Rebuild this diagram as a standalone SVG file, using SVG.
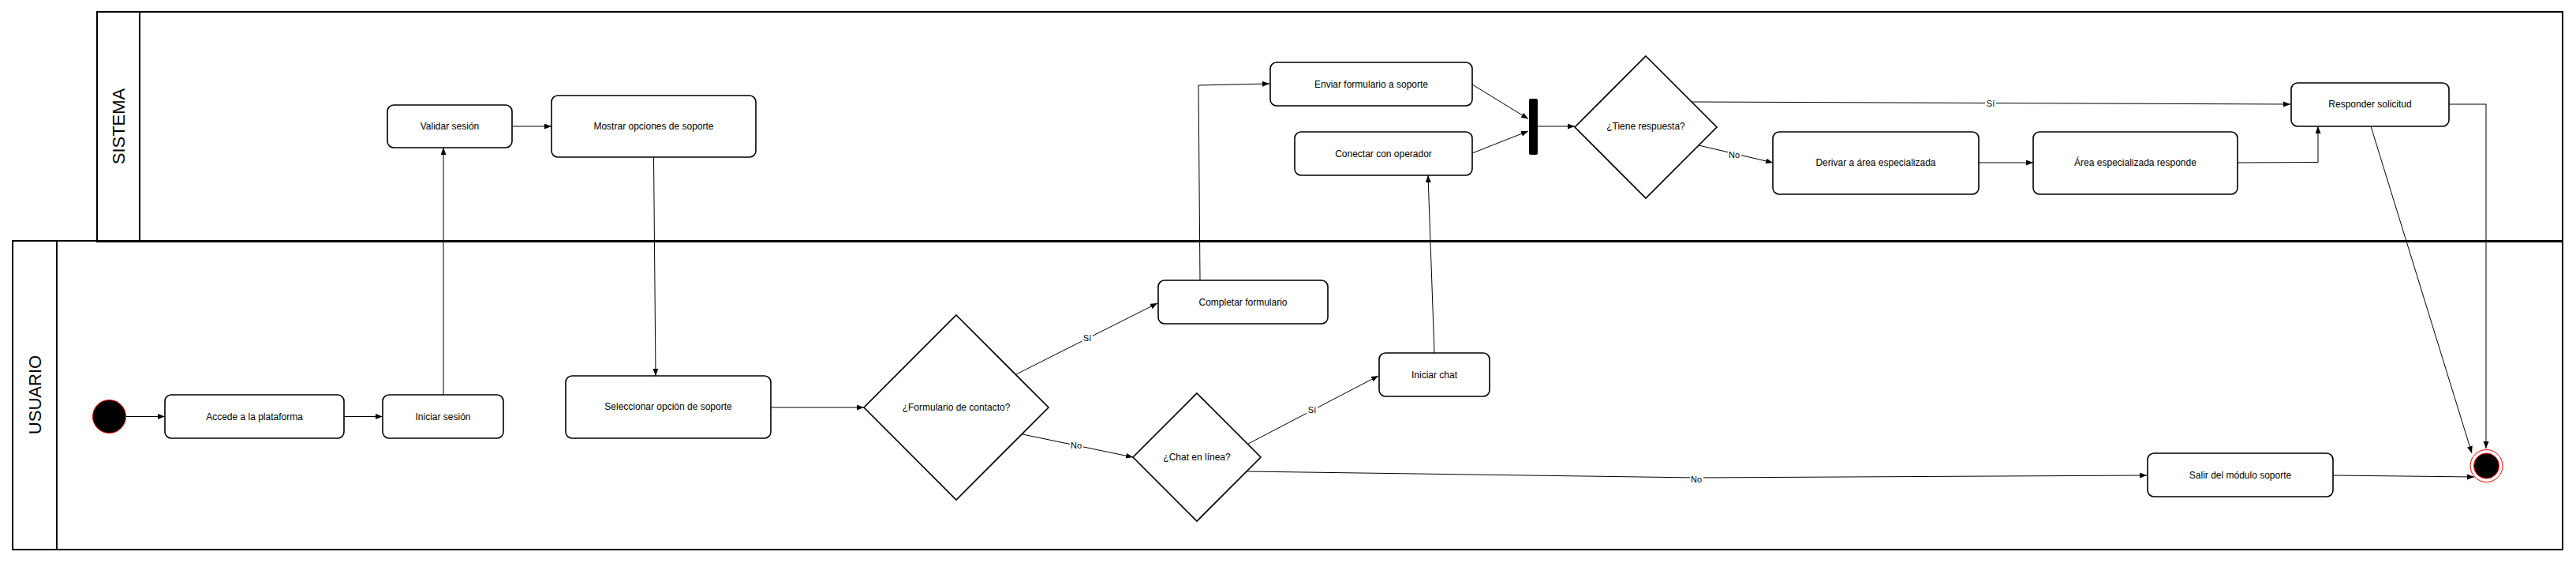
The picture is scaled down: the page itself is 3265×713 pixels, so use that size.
<svg xmlns="http://www.w3.org/2000/svg" width="3265" height="713" viewBox="0 0 3265 713">
<style>
.lane{fill:none;stroke:#000;stroke-width:2}
.hdr{fill:#fff;stroke:#000;stroke-width:2}
.lt{font-family:"Liberation Sans",Arial,Helvetica,sans-serif;font-size:22px;fill:#000;text-anchor:middle;dominant-baseline:central}
.n{fill:#fff;stroke:#000;stroke-width:1.6}
.t{font-family:"Liberation Sans",Arial,Helvetica,sans-serif;font-size:12px;fill:#000;text-anchor:middle;dominant-baseline:central}
.e{fill:none;stroke:#000;stroke-width:1;marker-end:url(#arr)}
.el{font-family:"Liberation Sans",Arial,Helvetica,sans-serif;font-size:11px;fill:#000;text-anchor:middle;dominant-baseline:central}
.lb{fill:#fff}
</style>
<defs>
<marker id="arr" markerUnits="userSpaceOnUse" markerWidth="10" markerHeight="8" refX="9" refY="3.5" orient="auto">
<path d="M0,0 L9,3.5 L0,7 z" fill="#000"/>
</marker>
</defs>
<rect width="3265" height="713" fill="#fff"/>
<g id="lane-sistema">
<rect class="lane" x="123" y="15" width="3125" height="291"/>
<rect class="hdr" x="123" y="15" width="54" height="291"/>
<text class="lt" transform="translate(150,160) rotate(-90)">SISTEMA</text>
</g>
<g id="lane-usuario">
<rect class="lane" x="16" y="305" width="3232" height="391"/>
<rect class="hdr" x="16" y="305" width="56" height="391"/>
<text class="lt" transform="translate(44,500) rotate(-90)">USUARIO</text>
</g>
<g id="connectors">
<path class="e" d="M160,527.5 L209,527.5"/>
<path class="e" d="M436,527.5 L485,527.5"/>
<path class="e" d="M562,500 L562,187"/>
<path class="e" d="M649,160 L699,160"/>
<path class="e" d="M828.5,199 L831,476"/>
<path class="e" d="M977,516 L1095,516"/>
<path class="e" d="M1288,474 L1467,384"/>
<path class="e" d="M1296,550 L1436,579"/>
<path class="e" d="M1582,562 L1747,476"/>
<path class="e" d="M1581,597 L2150,605 L2721,602"/>
<path class="e" d="M1521,355 L1519,108 L1609,106"/>
<path class="e" d="M1818,447 L1810,222"/>
<path class="e" d="M1866,107 L1937,150.5"/>
<path class="e" d="M1866,194 L1937,166"/>
<path class="e" d="M1949,160 L1996,160"/>
<path class="e" d="M2145,129 L2903,132"/>
<path class="e" d="M2153,184 L2247,206"/>
<path class="e" d="M2508,206 L2577,206"/>
<path class="e" d="M2836,206 L2938,205.5 L2938,160"/>
<path class="e" d="M3005,160 L3133,574"/>
<path class="e" d="M3104,132 L3151,132 L3151,568"/>
<path class="e" d="M2957,602 L3136,604"/>
<rect class="lb" x="1371" y="421" width="14" height="14"/>
<text class="el" x="1378" y="428">Sí</text>
<rect class="lb" x="1356" y="557" width="17" height="14"/>
<text class="el" x="1364" y="564">No</text>
<rect class="lb" x="1656" y="512" width="14" height="14"/>
<text class="el" x="1663" y="519">Sí</text>
<rect class="lb" x="2142" y="600" width="17" height="14"/>
<text class="el" x="2150" y="607">No</text>
<rect class="lb" x="2516" y="124" width="14" height="14"/>
<text class="el" x="2523" y="131">Sí</text>
<rect class="lb" x="2190" y="189" width="17" height="14"/>
<text class="el" x="2198" y="196">No</text>
</g>
<g id="start"><circle cx="138.5" cy="527.5" r="21" fill="#000" stroke="#f00" stroke-width="1"/></g>
<g id="accede"><rect class="n" x="209" y="500" width="227" height="55" rx="8"/><text class="t" x="322.5" y="527.5">Accede a la plataforma</text></g>
<g id="iniciar-sesion"><rect class="n" x="485" y="500" width="153" height="55" rx="8"/><text class="t" x="561.5" y="527.5">Iniciar sesión</text></g>
<g id="validar"><rect class="n" x="491" y="133" width="158" height="54" rx="8"/><text class="t" x="570" y="160">Validar sesión</text></g>
<g id="mostrar"><rect class="n" x="699" y="121" width="259" height="78" rx="8"/><text class="t" x="828.5" y="160">Mostrar opciones de soporte</text></g>
<g id="seleccionar"><rect class="n" x="717" y="476" width="260" height="79" rx="8"/><text class="t" x="847" y="515">Seleccionar opción de soporte</text></g>
<g id="formulario-q"><path class="n" d="M1212,399 L1329,516 L1212,633 L1095,516 Z"/><text class="t" x="1212" y="516">¿Formulario de contacto?</text></g>
<g id="chat-q"><path class="n" d="M1517,498 L1598,579 L1517,660 L1436,579 Z"/><text class="t" x="1517" y="579">¿Chat en línea?</text></g>
<g id="completar"><rect class="n" x="1468" y="355" width="215" height="55" rx="8"/><text class="t" x="1575.5" y="382.5">Completar formulario</text></g>
<g id="iniciar-chat"><rect class="n" x="1748" y="447" width="140" height="55" rx="8"/><text class="t" x="1818" y="474.5">Iniciar chat</text></g>
<g id="enviar"><rect class="n" x="1610" y="79" width="256" height="55" rx="8"/><text class="t" x="1738" y="106.5">Enviar formulario a soporte</text></g>
<g id="conectar"><rect class="n" x="1641" y="167" width="225" height="55" rx="8"/><text class="t" x="1753.5" y="194.5">Conectar con operador</text></g>
<g id="join"><rect x="1938" y="125" width="11" height="71" rx="2" fill="#000"/></g>
<g id="tiene-q"><path class="n" d="M2086,71 L2176,161 L2086,251 L1996,161 Z"/><text class="t" x="2086" y="160">¿Tiene respuesta?</text></g>
<g id="derivar"><rect class="n" x="2247" y="167" width="261" height="79" rx="8"/><text class="t" x="2377.5" y="206">Derivar a área especializada</text></g>
<g id="area"><rect class="n" x="2577" y="167" width="259" height="79" rx="8"/><text class="t" x="2706.5" y="206">Área especializada responde</text></g>
<g id="responder"><rect class="n" x="2904" y="105" width="200" height="55" rx="8"/><text class="t" x="3004" y="132">Responder solicitud</text></g>
<g id="salir"><rect class="n" x="2722" y="574" width="235" height="55" rx="8"/><text class="t" x="2839.5" y="601.5">Salir del módulo soporte</text></g>
<g id="end"><circle cx="3151.5" cy="590" r="20.5" fill="#fff" stroke="#f00" stroke-width="1"/><circle cx="3151.5" cy="590" r="16" fill="#000" stroke="#f00" stroke-width="1"/></g>
</svg>
